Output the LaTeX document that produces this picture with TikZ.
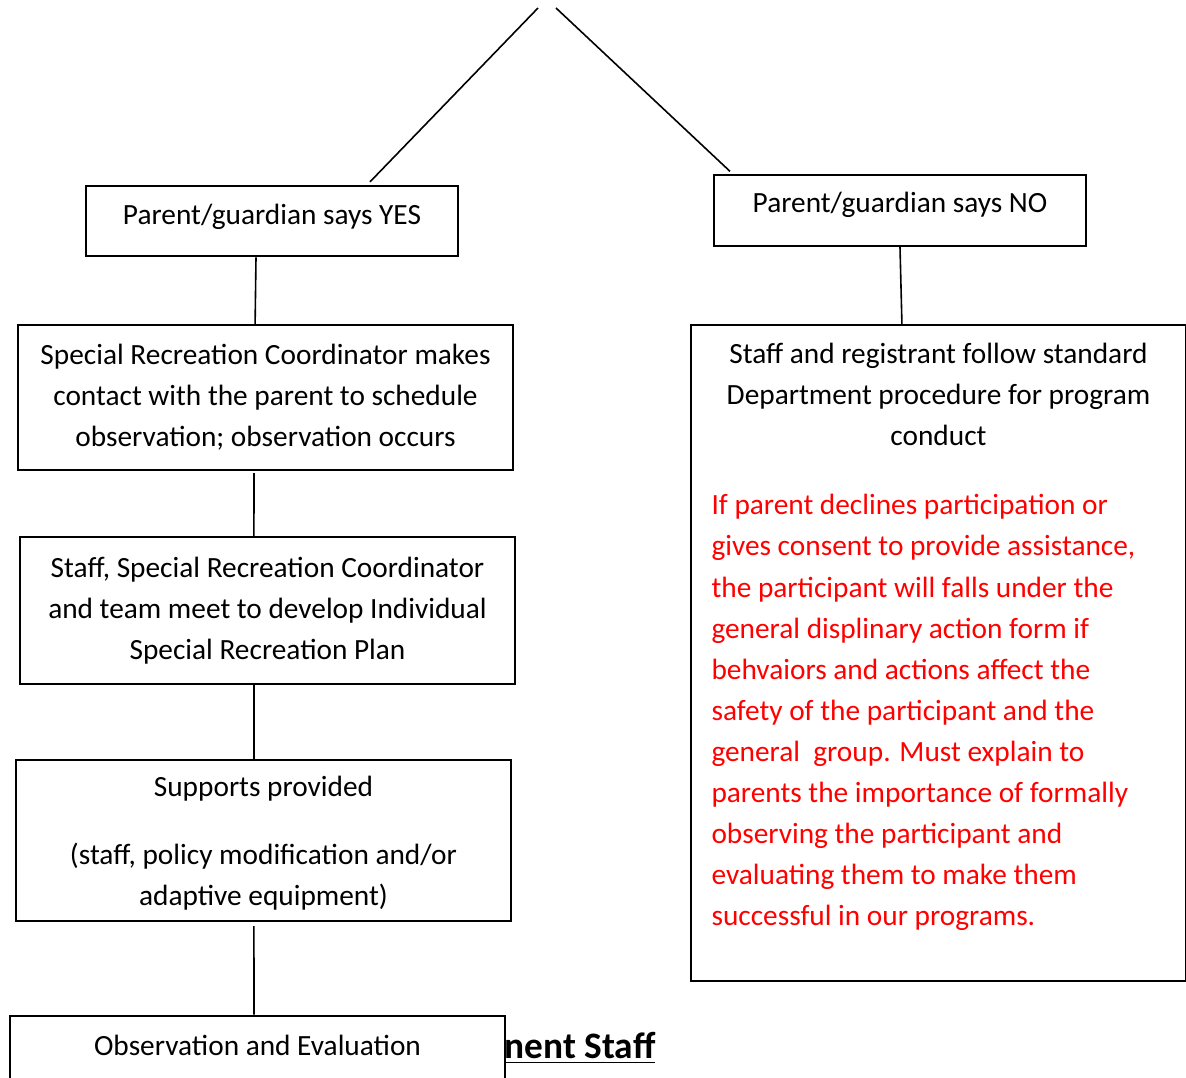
\documentclass[tikz,border=0pt]{standalone}
\usepackage{fontspec}
\setmainfont{Carlito}
\usepackage{tikz}
\usetikzlibrary{positioning}
\tikzset{
  box/.style={rectangle, draw=black, line width=0.75pt, fill=white,
              align=center, inner sep=0pt, minimum width=#1},
  box/.default=185.6pt,
  link/.style={line width=0.6pt},
  note/.style={text=red, align=left, inner sep=0pt},
}

\begin{document}
\begin{tikzpicture}[x=0.375pt, y=-0.375pt, font=\fontsize{11}{15.4}\selectfont]
\useasboundingbox (0,0) rectangle (1186,1078);
\clip (0,0) rectangle (1186,1078);

% ── Heading half hidden behind the last box ───────────────────────────────────
\node[font=\fontsize{14}{17}\selectfont\bfseries, anchor=east, inner sep=0pt]
  (heading) at (656,1048) {\underline{nent Staff}};

% ── Apex of the split ─────────────────────────────────────────────────────────
\coordinate (apexL) at (538,8);
\coordinate (apexR) at (556,8);

% ── Left branch: YES ──────────────────────────────────────────────────────────
\node[box=139.5pt, minimum height=26.6pt, text height=8pt, text depth=5.6pt]
  (yes) at (272,221) {Parent/guardian says YES};
\node[box, minimum height=54.4pt] (contact) at (265.5,397.5)
  {Special Recreation Coordinator makes\\
   contact with the parent to schedule\\
   observation; observation occurs};
\node[box, minimum height=55.1pt] (plan) at (267.5,610.5)
  {Staff, Special Recreation Coordinator\\
   and team meet to develop Individual\\
   Special Recreation Plan};
\node[box, minimum height=60.4pt, text depth=-2.8pt] (supports) at (263.5,840.5)
  {Supports provided\\[10pt]
   (staff, policy modification and/or\\
   adaptive equipment)};
\node[box, minimum height=26.6pt, text height=8pt, text depth=4.6pt]
  (evaluate) at (257.5,1051) {Observation and Evaluation};

% ── Right branch: NO ──────────────────────────────────────────────────────────
\node[box=139.5pt, minimum height=26.6pt, text height=8pt, text depth=6.2pt]
  (no) at (900,210.5) {Parent/guardian says NO};
\node[box, minimum height=246pt, anchor=north west] (standard) at (690,324) {};
\node[align=center, anchor=north, inner sep=0pt, below=7pt of standard.north]
  (standardtxt)
  {Staff and registrant follow standard\\
   Department procedure for program\\
   conduct};
\node[note, anchor=north west] (declines) at (711,494)
  {If parent declines participation or\\
   gives consent to provide assistance,\\
   the participant will falls under the\\
   general displinary action form if\\
   behvaiors and actions affect the\\
   safety of the participant and the\\
   general\ \ group. Must explain to\\
   parents the importance of formally\\
   observing the participant and\\
   evaluating them to make them\\
   successful in our programs.};

% ── Connectors ────────────────────────────────────────────────────────────────
\draw[link] (apexL) -- ([xshift=36.75pt, yshift=1pt]yes.north);
\draw[link] (apexR) -- ([xshift=-63.75pt, yshift=1pt]no.north);
\draw[link] ([xshift=-6pt]yes.south) -- ([xshift=-3.9pt]contact.north);
\draw[link] ([xshift=-4.3pt, yshift=-0.8pt]contact.south) -- ([xshift=-5.1pt]plan.north);
\draw[link] ([xshift=-5.1pt]plan.south) -- ([xshift=-3.6pt]supports.north);
\draw[link] ([xshift=-3.6pt, yshift=-1.5pt]supports.south) -- ([xshift=-1.3pt]evaluate.north);
\draw[link] (no.south) -- ([xshift=-13.7pt]standard.north);

\end{tikzpicture}
\end{document}
